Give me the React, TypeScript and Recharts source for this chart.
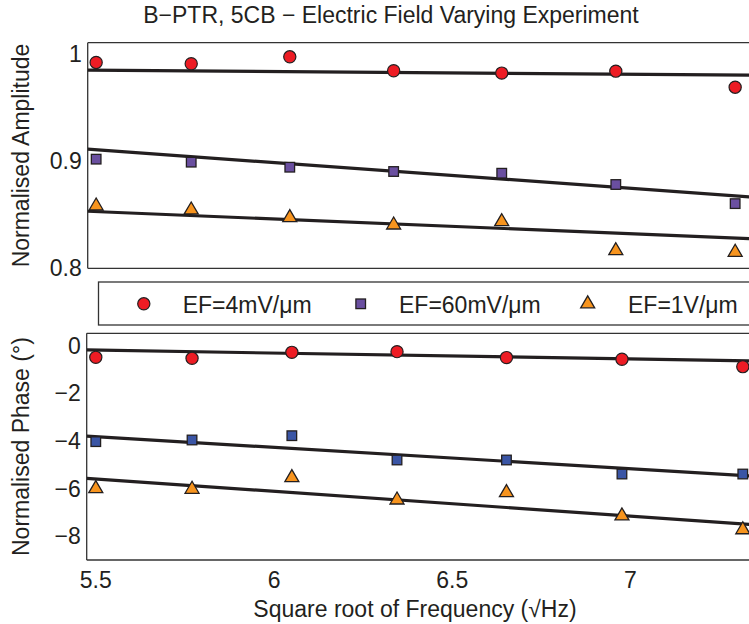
import React from 'react';
import { ScatterChart, Scatter, XAxis, YAxis } from 'recharts';

// ---------- data ----------
const FREQ_ROOT = [5.5, 5.77, 6.05, 6.345, 6.652, 6.976, 7.315];

const AMP_4MV = [0.9916, 0.9904, 0.9969, 0.9839, 0.9817, 0.9835, 0.9686];
const AMP_60MV = [0.9016, 0.8988, 0.8941, 0.8901, 0.8885, 0.878, 0.8602];
const AMP_1V = [0.858, 0.8543, 0.8472, 0.8403, 0.8434, 0.8164, 0.8149];

const PHASE_4MV = [-0.49, -0.53, -0.28, -0.25, -0.5, -0.57, -0.88];
const PHASE_60MV = [-4.03, -3.96, -3.78, -4.8, -4.8, -5.39, -5.39];
const PHASE_1V = [-6.0, -6.03, -5.54, -6.48, -6.17, -7.15, -7.73];

// linear fits (values at the two ends of each x range)
const FIT_X_AMP = [5.476, 7.36];
const FIT_AMP_4MV = [0.9845, 0.9798];
const FIT_AMP_60MV = [0.9109, 0.8664];
const FIT_AMP_1V = [0.8531, 0.8275];

const FIT_X_PHASE = [5.4745, 7.338];
const FIT_PHASE_4MV = [-0.18, -0.64];
const FIT_PHASE_60MV = [-3.8, -5.47];
const FIT_PHASE_1V = [-5.57, -7.51];

const AMP_TICKS = [0.8, 0.9, 1];
const PHASE_TICKS = [-8, -6, -4, -2, 0];
const FREQ_TICKS = [5.5, 6, 6.5, 7];

const X_AMP_DOMAIN = [5.476, 7.36];
const X_PHASE_DOMAIN = [5.4745, 7.338];
const AMP_DOMAIN = [0.8, 1.01];
const PHASE_DOMAIN = [-9, 0.52];

const LEGEND_LABELS = ['EF=4mV/\u03bcm', 'EF=60mV/\u03bcm', 'EF=1V/\u03bcm'];
const TITLE = 'B\u2212PTR, 5CB \u2212 Electric Field Varying Experiment';
const X_LABEL = 'Square root of Frequency (\u221AHz)';
const Y_LABEL_AMP = 'Normalised Amplitude';
const Y_LABEL_PHASE = 'Normalised Phase (\u00b0)';

// ---------- styles ----------
const INK = '#231F20';
const FRAME = '#333333';
const RED = '#ED1C24';
const PURPLE = '#6A4FA0';
const BLUE = '#3A55A5';
const ORANGE = '#F7941E';
const FONT = '"Liberation Sans", Arial, Helvetica, sans-serif';

const toPoints = (xs: number[], ys: number[]) => xs.map((x, i) => ({ x, y: ys[i] }));
const fmt = (v: number) => String(v).replace('-', '\u2212');

const circleShape = (color: string) => (p: any) => (
  <circle cx={p.cx} cy={p.cy} r={6.1} fill={color} stroke={INK} strokeWidth={1.2} />
);
const squareShape = (color: string) => (p: any) => (
  <rect x={p.cx - 4.8} y={p.cy - 4.8} width={9.6} height={9.6} fill={color} stroke={INK} strokeWidth={1.3} />
);
const triangleShape = (color: string) => (p: any) => (
  <polygon
    points={`${p.cx},${p.cy - 8} ${p.cx - 7},${p.cy + 4} ${p.cx + 7},${p.cy + 4}`}
    fill={color}
    stroke={INK}
    strokeWidth={1.3}
    strokeLinejoin="miter"
  />
);
const noShape = () => <g />;

const frameLine = { stroke: FRAME, strokeWidth: 1.3 };
const tickLine = { stroke: FRAME, strokeWidth: 1 };
const tickText = { fontSize: 23, fill: INK, fontFamily: FONT };
const fitLine = { stroke: INK, strokeWidth: 3.2 };

const W = 760;
const H = 624;

function FitSeries({ xs, ys }: { xs: number[]; ys: number[] }) {
  return null;
}

export default function App() {
  return (
    <div
      style={{
        position: 'absolute',
        left: 0,
        top: 0,
        width: 749,
        height: 624,
        overflow: 'hidden',
        background: '#fff',
      }}
    >
      {/* ---------- top panel: amplitude ---------- */}
      <div style={{ position: 'absolute', left: 0, top: 0 }}>
        <ScatterChart width={W} height={H} margin={{ top: 42.7, right: 9, bottom: H - 268.3, left: 0 }}>
          <XAxis
            xAxisId={0}
            dataKey="x"
            type="number"
            domain={X_AMP_DOMAIN}
            allowDataOverflow
            orientation="bottom"
            mirror
            height={1}
            tick={false}
            tickLine={false}
            axisLine={frameLine}
          />
          <XAxis
            xAxisId="top"
            type="number"
            domain={X_AMP_DOMAIN}
            allowDataOverflow
            orientation="top"
            mirror
            height={1}
            tick={false}
            tickLine={false}
            axisLine={frameLine}
          />
          <YAxis
            yAxisId={0}
            dataKey="y"
            type="number"
            domain={AMP_DOMAIN}
            allowDataOverflow
            ticks={AMP_TICKS}
            interval={0}
            width={87.7}
            tickSize={0}
            tickMargin={6}
            tickLine={false}
            axisLine={frameLine}
            tick={tickText}
            tickFormatter={fmt}
          />
          <YAxis
            yAxisId="leftIn"
            type="number"
            domain={AMP_DOMAIN}
            allowDataOverflow
            ticks={AMP_TICKS}
            interval={0}
            orientation="left"
            mirror
            width={1}
            tick={false}
            tickSize={6}
            tickLine={tickLine}
            axisLine={false}
          />
          <YAxis
            yAxisId="right"
            type="number"
            domain={AMP_DOMAIN}
            allowDataOverflow
            ticks={AMP_TICKS}
            interval={0}
            orientation="right"
            mirror
            width={1}
            tick={false}
            tickSize={6}
            tickLine={tickLine}
            axisLine={frameLine}
          />
          <Scatter data={toPoints(FIT_X_AMP, FIT_AMP_4MV)} line={fitLine} shape={noShape} isAnimationActive={false} legendType="none" />
          <Scatter data={toPoints(FIT_X_AMP, FIT_AMP_60MV)} line={fitLine} shape={noShape} isAnimationActive={false} legendType="none" />
          <Scatter data={toPoints(FIT_X_AMP, FIT_AMP_1V)} line={fitLine} shape={noShape} isAnimationActive={false} legendType="none" />
          <Scatter name={LEGEND_LABELS[0]} data={toPoints(FREQ_ROOT, AMP_4MV)} shape={circleShape(RED)} isAnimationActive={false} />
          <Scatter name={LEGEND_LABELS[1]} data={toPoints(FREQ_ROOT, AMP_60MV)} shape={squareShape(PURPLE)} isAnimationActive={false} />
          <Scatter name={LEGEND_LABELS[2]} data={toPoints(FREQ_ROOT, AMP_1V)} shape={triangleShape(ORANGE)} isAnimationActive={false} />
        </ScatterChart>
      </div>

      {/* ---------- bottom panel: phase ---------- */}
      <div style={{ position: 'absolute', left: 0, top: 0 }}>
        <ScatterChart width={W} height={H} margin={{ top: 333.3, right: 9, bottom: H - 560 - 30, left: 0 }}>
          <XAxis
            xAxisId={0}
            dataKey="x"
            type="number"
            domain={X_PHASE_DOMAIN}
            allowDataOverflow
            ticks={FREQ_TICKS}
            interval={0}
            orientation="bottom"
            height={30}
            tickSize={0}
            tickMargin={11.5}
            tickLine={false}
            axisLine={frameLine}
            tick={tickText}
            tickFormatter={fmt}
          />
          <XAxis
            xAxisId="bottomIn"
            type="number"
            domain={X_PHASE_DOMAIN}
            allowDataOverflow
            ticks={FREQ_TICKS}
            interval={0}
            orientation="bottom"
            mirror
            height={1}
            tick={false}
            tickSize={6}
            tickLine={tickLine}
            axisLine={false}
          />
          <XAxis
            xAxisId="top"
            type="number"
            domain={X_PHASE_DOMAIN}
            allowDataOverflow
            ticks={FREQ_TICKS}
            interval={0}
            orientation="top"
            mirror
            height={1}
            tick={false}
            tickSize={6}
            tickLine={tickLine}
            axisLine={frameLine}
          />
          <YAxis
            yAxisId={0}
            dataKey="y"
            type="number"
            domain={PHASE_DOMAIN}
            allowDataOverflow
            ticks={PHASE_TICKS}
            interval={0}
            width={86.7}
            tickSize={0}
            tickMargin={6}
            tickLine={false}
            axisLine={frameLine}
            tick={tickText}
            tickFormatter={fmt}
          />
          <YAxis
            yAxisId="leftIn"
            type="number"
            domain={PHASE_DOMAIN}
            allowDataOverflow
            ticks={PHASE_TICKS}
            interval={0}
            orientation="left"
            mirror
            width={1}
            tick={false}
            tickSize={6}
            tickLine={tickLine}
            axisLine={false}
          />
          <YAxis
            yAxisId="right"
            type="number"
            domain={PHASE_DOMAIN}
            allowDataOverflow
            ticks={PHASE_TICKS}
            interval={0}
            orientation="right"
            mirror
            width={1}
            tick={false}
            tickSize={6}
            tickLine={tickLine}
            axisLine={frameLine}
          />
          <Scatter data={toPoints(FIT_X_PHASE, FIT_PHASE_4MV)} line={fitLine} shape={noShape} isAnimationActive={false} legendType="none" />
          <Scatter data={toPoints(FIT_X_PHASE, FIT_PHASE_60MV)} line={fitLine} shape={noShape} isAnimationActive={false} legendType="none" />
          <Scatter data={toPoints(FIT_X_PHASE, FIT_PHASE_1V)} line={fitLine} shape={noShape} isAnimationActive={false} legendType="none" />
          <Scatter name={LEGEND_LABELS[0]} data={toPoints(FREQ_ROOT, PHASE_4MV)} shape={circleShape(RED)} isAnimationActive={false} />
          <Scatter name={LEGEND_LABELS[1]} data={toPoints(FREQ_ROOT, PHASE_60MV)} shape={squareShape(BLUE)} isAnimationActive={false} />
          <Scatter name={LEGEND_LABELS[2]} data={toPoints(FREQ_ROOT, PHASE_1V)} shape={triangleShape(ORANGE)} isAnimationActive={false} />
        </ScatterChart>
      </div>

      {/* ---------- title, axis labels, legend ---------- */}
      <svg width={749} height={624} style={{ position: 'absolute', left: 0, top: 0, pointerEvents: 'none' }}>
        <g fontFamily={FONT} fill={INK} fontSize={23}>
          <text x={391} y={23} textAnchor="middle">{TITLE}</text>
          <text x={415} y={617} textAnchor="middle">{X_LABEL}</text>
          <text transform="translate(29,155.5) rotate(-90)" textAnchor="middle">{Y_LABEL_AMP}</text>
          <text transform="translate(29,446.6) rotate(-90)" textAnchor="middle">{Y_LABEL_PHASE}</text>
        </g>
        <rect x={98.5} y={282} width={700} height={43} fill="#fff" stroke={FRAME} strokeWidth={1.3} />
        <g fontFamily={FONT} fill={INK} fontSize={23}>
          <circle cx={143.8} cy={303.8} r={6.1} fill={RED} stroke={INK} strokeWidth={1.2} />
          <text x={182.7} y={312.7}>{LEGEND_LABELS[0]}</text>
          <rect x={360.7 - 4.8} y={303.8 - 4.8} width={9.6} height={9.6} fill={PURPLE} stroke={INK} strokeWidth={1.3} />
          <text x={399} y={312.7}>{LEGEND_LABELS[1]}</text>
          <polygon points="587.7,295.8 580.7,307.8 594.7,307.8" fill={ORANGE} stroke={INK} strokeWidth={1.3} />
          <text x={628} y={312.7}>{LEGEND_LABELS[2]}</text>
        </g>
      </svg>
    </div>
  );
}
